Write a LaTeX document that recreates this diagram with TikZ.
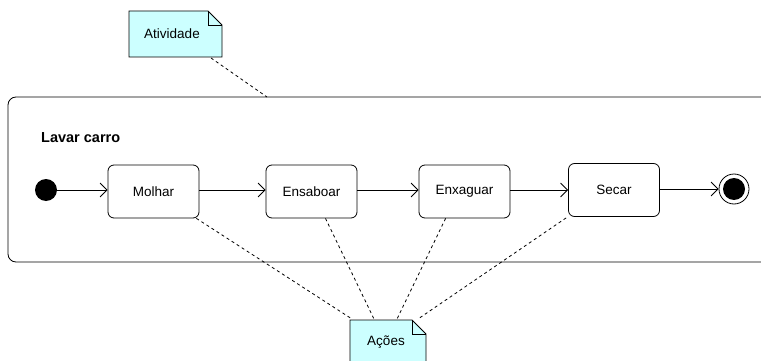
\documentclass[tikz,border=0pt]{standalone}
\usepackage{fontspec}
\setmainfont{Liberation Sans}
\usetikzlibrary{arrows.meta,shapes.misc}
\definecolor{notefill}{HTML}{CCFFFF}
\tikzset{
  px/.style={x=1pt,y=-1pt},
  lbl/.style={font=\fontsize{13.5}{15}\selectfont},
  action/.style={draw,rounded corners=6pt,minimum width=91pt,minimum height=53pt,inner sep=0pt,lbl,line width=0.8pt},
  flow/.style={draw,line width=0.8pt,-{Straight Barb[length=7pt,width=14pt,line width=0.8pt]}},
  anchorline/.style={draw,dashed,dash pattern=on 3pt off 3pt,line width=0.8pt},
  notebox/.style={draw,fill=notefill,line width=0.8pt},
}
\begin{document}
\begin{tikzpicture}[px]
\useasboundingbox (0,0) rectangle (761,361);
% container
\draw[line width=0.8pt,rounded corners=8pt] (766,97) -- (8,97) -- (8,262) -- (766,262);
\node[anchor=west,inner sep=0pt,font=\bfseries\fontsize{14.5}{16}\selectfont] (title) at (41,138) {Lavar carro};
% Atividade note
\draw[notebox] (129,11) -- (208,11) -- (222,25) -- (222,57) -- (129,57) -- cycle;
\draw[line width=0.8pt] (208,11) -- (208,25) -- (222,25);
\node[lbl] (ativ) at (172,34) {Atividade};
\coordinate (ativb) at (211,58);
\coordinate (contt) at (267,97);
\draw[anchorline] (ativb) -- (contt);
% nodes
\node[circle,fill=black,minimum size=22pt,inner sep=0pt] (init) at (46,190) {};
\node[action] (m) at (153.5,191.5) {Molhar};
\node[action] (e) at (311.5,191.5) {Ensaboar};
\node[action] (x) at (464.5,191.5) {Enxaguar};
\node[action] (s) at (614,190) {Secar};
\node[circle,draw,line width=0.8pt,minimum size=30pt,inner sep=0pt] (fin) at (734,189) {};
\node[circle,fill=black,minimum size=22pt,inner sep=0pt] (finin) at (734,189) {};
\draw[flow] (init) -- (m.west|-init);
\draw[flow] (m.east|-init) -- (e.west|-init);
\draw[flow] (e.east|-init) -- (x.west|-init);
\draw[flow] (x.east|-init) -- (s.west|-init);
\draw[flow] (s.east|-fin) -- (fin.west);
% Acoes note
\draw[notebox] (350,320) -- (412,320) -- (426,334) -- (426,366) -- (350,366) -- cycle;
\draw[line width=0.8pt] (412,320) -- (412,334) -- (426,334);
\node[lbl] (acoes) at (386,342) {Ações};
\coordinate (a1) at (352,319);
\coordinate (a2) at (374,319);
\coordinate (a3) at (397,319);
\coordinate (a4) at (418,319);
\draw[anchorline] (m.south east) ++(-3,0) coordinate (m1) -- (a1);
\draw[anchorline] (e.south) ++(14,0) coordinate (e1) -- (a2);
\draw[anchorline] (x.south west) ++(27,0) coordinate (x1) -- (a3);
\draw[anchorline] (s.south west) ++(-2,1) coordinate (s1) -- (a4);
\end{tikzpicture}
\end{document}
